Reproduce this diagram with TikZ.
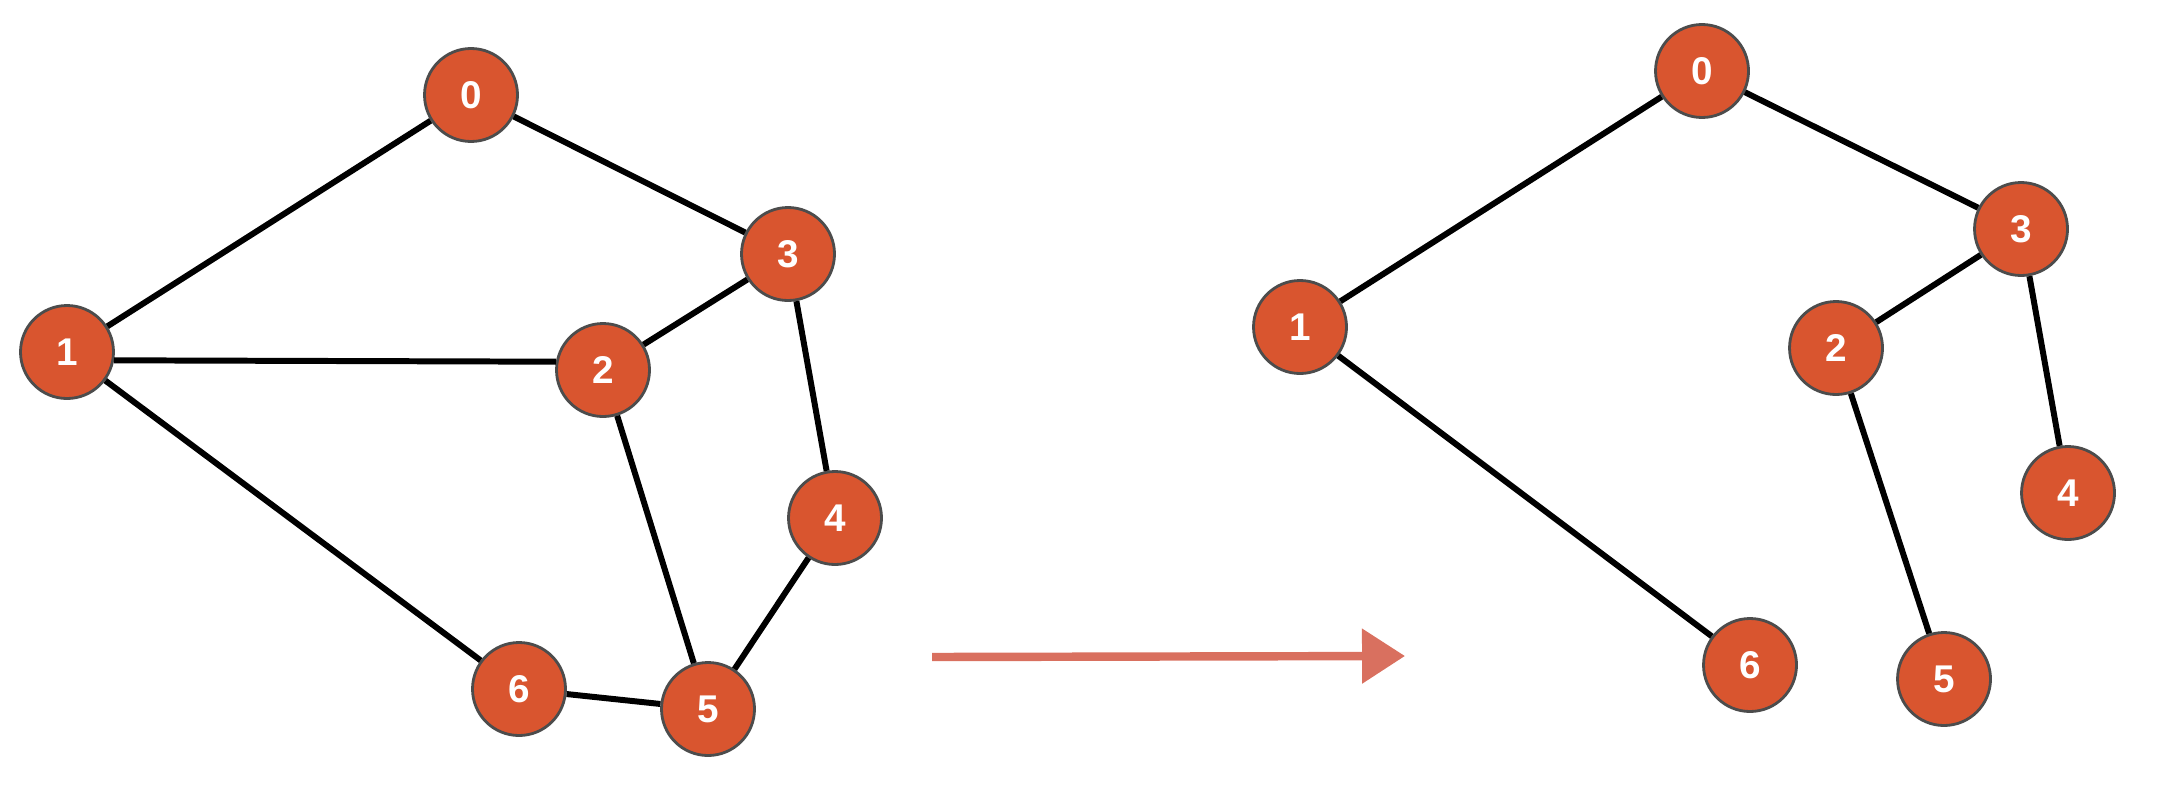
\documentclass[tikz,border=0pt]{standalone}
\usepackage{fontspec}
\setmainfont{Liberation Sans}
\usetikzlibrary{arrows.meta}
\definecolor{vertexred}{HTML}{D9552F}
\definecolor{arrowred}{HTML}{D9705F}
\tikzset{
  vertex/.style={circle,fill=vertexred,draw=black!70,line width=0.8pt,minimum size=9.3mm,inner sep=0pt,text=white,font=\fontsize{11}{13}\selectfont\bfseries},
  edge/.style={line width=1.7pt,black}
}
\begin{document}
\begin{tikzpicture}
			\useasboundingbox (0,0) rectangle (21.6,7.87);
			% original graph
			\node[vertex] (a0) at (4.71,6.92) {0};
			\node[vertex] (a1) at (0.67,4.35) {1};
			\node[vertex] (a2) at (6.03,4.17) {2};
			\node[vertex] (a3) at (7.88,5.33) {3};
			\node[vertex] (a4) at (8.35,2.69) {4};
			\node[vertex] (a5) at (7.08,0.78) {5};
			\node[vertex] (a6) at (5.19,0.98) {6};
			\draw[edge] (a0) -- (a1); \draw[edge] (a0) -- (a3);
			\draw[edge] (a1.-10) -- (a2.170); \draw[edge] (a1) -- (a6);
			\draw[edge] (a2) -- (a3); \draw[edge] (a2) -- (a5);
			\draw[edge] (a3) -- (a4); \draw[edge] (a4) -- (a5);
			\draw[edge] (a5) -- (a6);
			% spanning tree
			\node[vertex] (b0) at (17.02,7.16) {0};
			\node[vertex] (b1) at (13.00,4.60) {1};
			\node[vertex] (b2) at (18.36,4.39) {2};
			\node[vertex] (b3) at (20.21,5.58) {3};
			\node[vertex] (b4) at (20.68,2.94) {4};
			\node[vertex] (b5) at (19.44,1.08) {5};
			\node[vertex] (b6) at (17.50,1.22) {6};
			\draw[edge] (b0) -- (b1); \draw[edge] (b0) -- (b3);
			\draw[edge] (b1) -- (b6); \draw[edge] (b3) -- (b2);
			\draw[edge] (b2) -- (b5); \draw[edge] (b3) -- (b4);
			% arrow between
			\coordinate (from) at (9.32,1.30);
			\coordinate (to) at (14.05,1.31);
			\draw[arrowred,line width=2.4pt,-{Triangle[length=4.3mm,width=5.3mm]}] (from) -- (to);
		\end{tikzpicture}
\end{document}
